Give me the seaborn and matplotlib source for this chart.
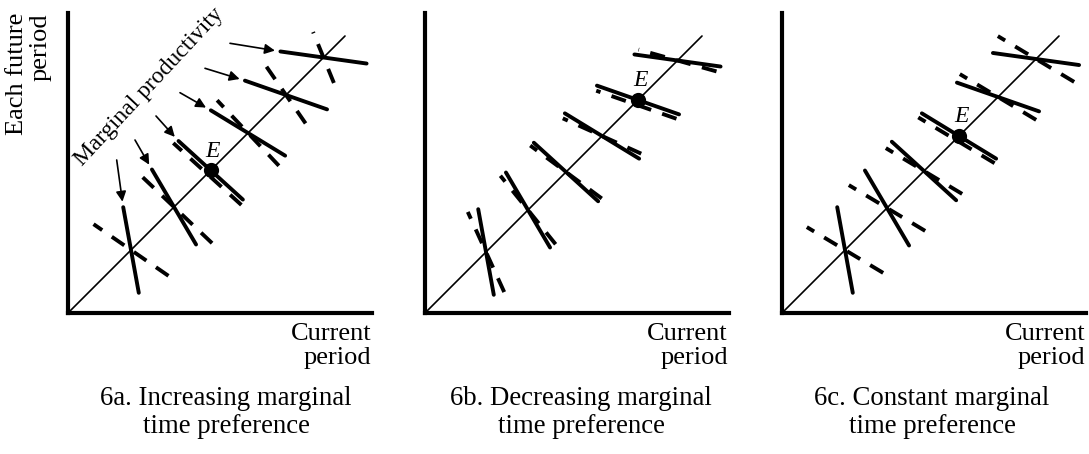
import numpy as np
import pandas as pd
import matplotlib
matplotlib.use('Agg')
import matplotlib.pyplot as plt
import seaborn as sns

# where each pair of curves crosses the 45 degree line (same units on both axes)
cross_a = [63, 106, 142.7, 180, 218, 255.5]
cross_b = [61, 103, 141, 177, 213, 252.5]
cross_c = [63, 105, 142, 177, 216, 254]

# marginal productivity (solid), same slopes in all three panels
mp_slopes = [-5.5, -1.7, -0.91, -0.61, -0.35, -0.14]
mp_length = 87

# marginal time preference (dashed)
tp_slopes_a = [-0.69, -0.95, -0.91, -1.06, -1.45, -2.45]
tp_lengths_a = [91, 105, 92, 90, 69, 55]
tp_slopes_b = [-2.2, -1.24, -0.74, -0.45, -0.35, -0.28]
tp_lengths_b = [88, 88, 89, 86, 85, 81]
tp_slopes_c = [-0.6, -0.6, -0.6, -0.6, -0.6, -0.6]
tp_lengths_c = [89, 89, 89, 89, 89, 89]

eq_index = [2, 4, 3]   # which crossing is the equilibrium E
diag_end = 277

captions = ["6a. Increasing marginal\ntime preference",
            "6b. Decreasing marginal\ntime preference",
            "6c. Constant marginal\ntime preference"]

# tails of the arrows coming from the "Marginal productivity" label (panel a)
arrow_tail_x = [48.7, 67, 88, 112, 137, 162]
arrow_tail_y = [153, 173, 197, 220.3, 244.7, 269.7]


def segment(t, m, length, shift=0.0):
    d = np.array([1.0, m]) / np.sqrt(1 + m * m)
    n = np.array([m, -1.0]) / np.sqrt(1 + m * m)
    c = np.array([t, t]) + shift * n
    p0 = c - d * length / 2
    p1 = c + d * length / 2
    return p0, p1


def build_frame(cross, tp_slopes, tp_lengths, eq):
    rows = []
    for i, t in enumerate(cross):
        p0, p1 = segment(t, mp_slopes[i], mp_length)
        rows.append((f"mp{i}", "solid", p0[0], p0[1]))
        rows.append((f"mp{i}", "solid", p1[0], p1[1]))
        shift = 5.0 if i == eq else 0.0
        p0, p1 = segment(t, tp_slopes[i], tp_lengths[i], shift)
        rows.append((f"tp{i}", "dashed", p1[0], p1[1]))
        rows.append((f"tp{i}", "dashed", p0[0], p0[1]))
    return pd.DataFrame(rows, columns=["seg", "kind", "x", "y"])


sns.set_style("white")
plt.rcParams['font.family'] = ['Liberation Serif', 'DejaVu Serif']
plt.rcParams['text.color'] = 'black'

W, H = 1089, 454
fig = plt.figure(figsize=(W / 100, H / 100), dpi=100)

origins = [68, 425, 782]
caption_x = [158, 156, 150]
panels = [(cross_a, tp_slopes_a, tp_lengths_a),
          (cross_b, tp_slopes_b, tp_lengths_b),
          (cross_c, tp_slopes_c, tp_lengths_c)]

for k, (cross, tps, tpl) in enumerate(panels):
    ax = fig.add_axes([origins[k] / W, (H - 313) / H, 304 / W, 300 / H])
    ax.set_xlim(0, 304)
    ax.set_ylim(0, 300)
    for s in ["top", "right"]:
        ax.spines[s].set_visible(False)
    for s in ["left", "bottom"]:
        ax.spines[s].set_linewidth(3)
        ax.spines[s].set_color("black")
        ax.spines[s].set_capstyle("projecting")
    ax.set_xticks([])
    ax.set_yticks([])

    diag = pd.DataFrame({"x": [0, diag_end], "y": [0, diag_end]})
    sns.lineplot(data=diag, x="x", y="y", color="black", linewidth=1.2, ax=ax)

    df = build_frame(cross, tps, tpl, eq_index[k])
    sns.lineplot(data=df, x="x", y="y", units="seg", style="kind",
                 dashes={"solid": "", "dashed": (3.9, 3.0)},
                 estimator=None, sort=False, color="black", linewidth=2.8,
                 legend=False, ax=ax)

    te = cross[eq_index[k]]
    sns.scatterplot(x=[te], y=[te], s=120, color="black", edgecolor="black",
                    linewidth=0, zorder=5, ax=ax, legend=False)
    ax.text(te + 2, te + 19, "E", style="italic", fontsize=17,
            ha="center", va="center")

    ax.set_xlabel("")
    ax.set_ylabel("")
    ax.text(303, -10, "Current\nperiod", fontsize=19, ha="right", va="top",
            multialignment="right", linespacing=1.1, clip_on=False)
    ax.text(caption_x[k], -73, captions[k], fontsize=19.3, ha="center",
            va="top", linespacing=1.15, clip_on=False)

    if k == 0:
        ax.text(81, 226, "Marginal productivity", fontsize=17, rotation=47,
                rotation_mode="anchor", ha="center", va="center")
        for i, t in enumerate(cross):
            p0, p1 = segment(t, mp_slopes[i], mp_length)
            ax.annotate("", xy=(p0[0], p0[1]),
                        xytext=(arrow_tail_x[i], arrow_tail_y[i]),
                        arrowprops=dict(arrowstyle="-|>", color="black", lw=1.2,
                                        mutation_scale=15, shrinkA=0, shrinkB=4))

fig.text(29 / W, (H - 13) / H, "Each future\nperiod", fontsize=19,
         rotation=90, ha="center", va="top", multialignment="right",
         linespacing=1.1)

fig.savefig("out.png", dpi=100)
